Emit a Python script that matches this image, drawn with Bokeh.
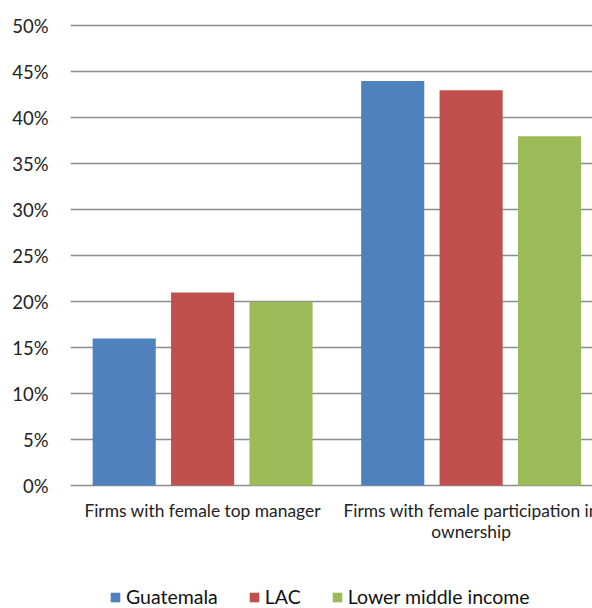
from bokeh.plotting import figure
from bokeh.models import Range1d, FixedTicker, Legend, LegendItem, ColumnDataSource
from bokeh.core.properties import value
from bokeh.embed import file_html
from bokeh.resources import INLINE

# Share of firms (%) by group
categories = ["Firms with female top manager", "Firms with female participation in\nownership"]
series = ["Guatemala", "LAC", "Lower middle income"]
guatemala = [16, 44]
lac = [21, 43]
lower_middle = [20, 38]
y_ticks = [0, 5, 10, 15, 20, 25, 30, 35, 40, 45, 50]

colors = ["#4F81BD", "#C0504D", "#9BBB59"]
FONT = "Lato"
GRID = "#8C8C8C"

# The frame runs down to the bottom edge; the space under 0% holds the
# category names and the legend.
p = figure(width=592, height=608, output_backend="svg", toolbar_location=None,
           x_range=Range1d(0.008, 1.952), y_range=Range1d(-13.37, 50.25),
           x_axis_location=None,
           min_border_left=70, min_border_right=0, min_border_top=23, min_border_bottom=0)
p.outline_line_color = None
p.background_fill_color = "white"
p.border_fill_color = "white"

centers = [i + 0.5 for i in range(len(categories))]
offsets = [-0.292, 0.0, 0.292]
bar_w = 0.235

renderers = []
for vals, off, col in zip([guatemala, lac, lower_middle], offsets, colors):
    src = ColumnDataSource(dict(x=[c + off for c in centers], top=vals))
    r = p.vbar(x="x", top="top", width=bar_w, bottom=0, source=src,
               fill_color=col, line_color=None)
    renderers.append(r)

# y axis: percent labels, gridlines every 5% (0% doubles as the baseline)
p.yaxis.ticker = FixedTicker(ticks=y_ticks)
p.yaxis.major_label_overrides = {v: f"{v}%" for v in y_ticks}
p.yaxis.axis_line_color = None
p.yaxis.major_tick_line_color = None
p.yaxis.minor_tick_line_color = None
p.yaxis.major_label_text_font = FONT
p.yaxis.major_label_text_font_size = "18.5px"
p.yaxis.major_label_text_color = "#222222"
p.yaxis.major_label_standoff = 16

p.ygrid.ticker = FixedTicker(ticks=y_ticks)
p.ygrid.grid_line_color = GRID
p.ygrid.grid_line_width = 1.6
p.xgrid.grid_line_color = None

# category names under each group of bars
p.text(x=centers, y=[-1.6] * len(centers), text=categories,
       text_font=value(FONT), text_font_size="17.4px", text_color="#222222",
       text_align="center", text_baseline="top", text_line_height=1.0)

legend = Legend(items=[LegendItem(label=s, renderers=[r]) for s, r in zip(series, renderers)],
                orientation="horizontal", location=(39, 0))
legend.border_line_color = None
legend.background_fill_alpha = 0
legend.padding = 0
legend.margin = 0
legend.spacing = 30
legend.glyph_width = 12
legend.glyph_height = 12
legend.label_standoff = 5
legend.label_text_font = FONT
legend.label_text_font_size = "19.5px"
legend.label_text_color = "#111111"
legend.label_height = 20
p.add_layout(legend, "center")

open("out.html", "w").write(file_html(p, INLINE))
